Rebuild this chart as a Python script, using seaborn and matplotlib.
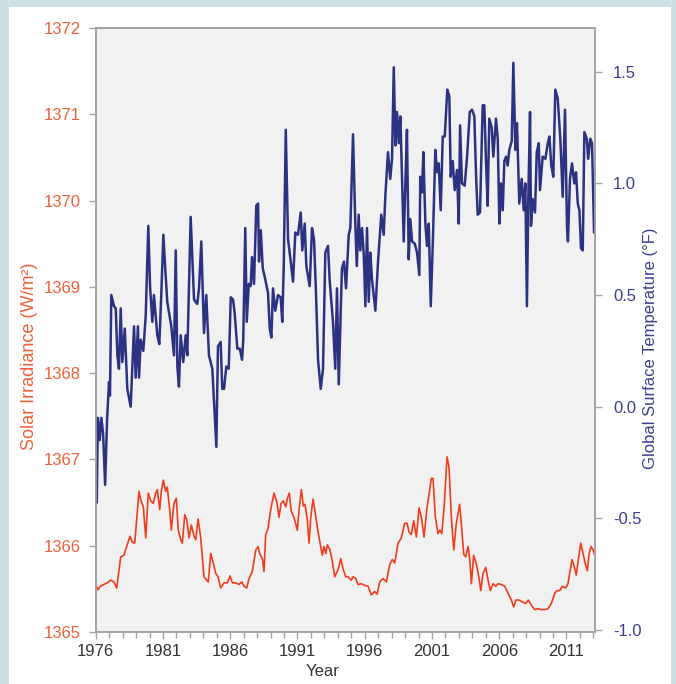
import matplotlib
matplotlib.use("Agg")
import matplotlib.pyplot as plt
import seaborn as sns
from matplotlib.patches import Rectangle
from matplotlib.ticker import MultipleLocator, FormatStrFormatter

# monthly-ish readings
temp_year = [
    1976.00, 1976.08, 1976.16, 1976.30, 1976.42, 1976.55, 1976.70, 1976.85, 1976.99, 1977.06,
    1977.16, 1977.36, 1977.49, 1977.61, 1977.73, 1977.86, 1977.98, 1978.16, 1978.35, 1978.60,
    1978.85, 1978.97, 1979.14, 1979.22, 1979.35, 1979.54, 1979.72, 1979.91, 1980.04, 1980.21,
    1980.33, 1980.58, 1980.73, 1980.88, 1981.03, 1981.15, 1981.32, 1981.62, 1981.82, 1981.95,
    1982.07, 1982.19, 1982.32, 1982.51, 1982.69, 1982.81, 1983.06, 1983.31, 1983.55, 1983.68,
    1983.85, 1984.05, 1984.22, 1984.42, 1984.67, 1984.97, 1985.09, 1985.29, 1985.41, 1985.54,
    1985.71, 1985.89, 1986.04, 1986.21, 1986.33, 1986.53, 1986.71, 1986.88, 1986.97, 1987.12,
    1987.23, 1987.38, 1987.52, 1987.62, 1987.77, 1987.94, 1988.07, 1988.14, 1988.27, 1988.42,
    1988.57, 1988.81, 1988.94, 1989.06, 1989.18, 1989.35, 1989.55, 1989.75, 1989.87, 1989.98,
    1990.13, 1990.30, 1990.50, 1990.67, 1990.84, 1991.04, 1991.24, 1991.36, 1991.54, 1991.66,
    1991.91, 1992.08, 1992.23, 1992.36, 1992.53, 1992.73, 1992.90, 1993.07, 1993.27, 1993.40,
    1993.64, 1993.81, 1993.94, 1994.07, 1994.22, 1994.31, 1994.46, 1994.61, 1994.81, 1994.93,
    1995.13, 1995.30, 1995.41, 1995.55, 1995.67, 1995.80, 1995.93, 1996.05, 1996.17, 1996.30,
    1996.42, 1996.54, 1996.79, 1996.99, 1997.23, 1997.41, 1997.53, 1997.73, 1997.90, 1998.03,
    1998.16, 1998.28, 1998.40, 1998.53, 1998.65, 1998.77, 1998.90, 1999.02, 1999.14, 1999.27,
    1999.39, 1999.52, 1999.72, 1999.89, 2000.06, 2000.13, 2000.26, 2000.36, 2000.51, 2000.63,
    2000.76, 2000.91, 2001.06, 2001.25, 2001.38, 2001.50, 2001.65, 2001.80, 2001.95, 2002.14,
    2002.29, 2002.39, 2002.54, 2002.69, 2002.86, 2002.99, 2003.09, 2003.23, 2003.43, 2003.61,
    2003.81, 2003.98, 2004.15, 2004.28, 2004.40, 2004.57, 2004.77, 2004.89, 2005.02, 2005.14,
    2005.26, 2005.44, 2005.56, 2005.76, 2005.89, 2006.01, 2006.13, 2006.26, 2006.38, 2006.51,
    2006.63, 2006.75, 2006.93, 2007.05, 2007.20, 2007.32, 2007.49, 2007.67, 2007.82, 2007.94,
    2008.06, 2008.16, 2008.29, 2008.36, 2008.49, 2008.66, 2008.79, 2008.94, 2009.03, 2009.23,
    2009.43, 2009.61, 2009.73, 2009.87, 2010.02, 2010.17, 2010.35, 2010.54, 2010.72, 2010.89,
    2011.04, 2011.11, 2011.26, 2011.41, 2011.58, 2011.71, 2011.84, 2011.96, 2012.08, 2012.21,
    2012.33, 2012.51, 2012.61, 2012.77, 2012.90, 2013.05,
]
temp_f = [
    -0.05, -0.43, -0.05, -0.15, -0.05, -0.12, -0.35, -0.05, 0.11, 0.05,
    0.50, 0.45, 0.44, 0.23, 0.17, 0.44, 0.20, 0.35, 0.08, 0.00,
    0.36, 0.13, 0.36, 0.13, 0.30, 0.25, 0.41, 0.81, 0.54, 0.38,
    0.50, 0.32, 0.28, 0.51, 0.77, 0.64, 0.47, 0.36, 0.23, 0.70,
    0.18, 0.09, 0.32, 0.20, 0.32, 0.23, 0.85, 0.48, 0.46, 0.53,
    0.74, 0.33, 0.50, 0.23, 0.17, -0.18, 0.27, 0.29, 0.08, 0.08,
    0.18, 0.17, 0.49, 0.48, 0.42, 0.26, 0.26, 0.21, 0.30, 0.80,
    0.38, 0.55, 0.54, 0.67, 0.55, 0.90, 0.91, 0.65, 0.79, 0.62,
    0.58, 0.51, 0.35, 0.31, 0.53, 0.43, 0.50, 0.49, 0.38, 0.63,
    1.24, 0.75, 0.65, 0.56, 0.78, 0.77, 0.87, 0.70, 0.82, 0.63,
    0.54, 0.80, 0.75, 0.54, 0.21, 0.08, 0.17, 0.69, 0.72, 0.56,
    0.38, 0.17, 0.53, 0.10, 0.44, 0.62, 0.65, 0.53, 0.77, 0.80,
    1.22, 0.82, 0.63, 0.86, 0.70, 0.80, 0.68, 0.45, 0.80, 0.47,
    0.69, 0.57, 0.43, 0.65, 0.86, 0.77, 0.94, 1.14, 1.02, 1.11,
    1.52, 1.17, 1.32, 1.18, 1.30, 1.03, 0.74, 1.00, 1.24, 0.66,
    0.84, 0.74, 0.73, 0.69, 0.59, 1.03, 0.96, 1.14, 0.82, 0.72,
    0.82, 0.45, 0.73, 1.15, 1.05, 1.09, 0.88, 1.21, 1.21, 1.42,
    1.39, 1.03, 1.10, 0.97, 1.06, 0.82, 1.26, 1.00, 0.99, 1.12,
    1.32, 1.33, 1.30, 1.03, 0.86, 0.87, 1.35, 1.35, 1.09, 0.90,
    1.29, 1.25, 1.12, 1.29, 1.20, 0.82, 1.00, 0.88, 1.10, 1.12,
    1.08, 1.15, 1.19, 1.54, 1.15, 1.27, 0.91, 1.02, 0.88, 1.00,
    0.45, 0.93, 1.32, 0.81, 0.93, 0.87, 1.14, 1.18, 0.97, 1.12,
    1.11, 1.18, 1.21, 1.08, 1.03, 1.42, 1.38, 1.20, 0.94, 1.33,
    0.80, 0.74, 1.02, 1.09, 1.00, 1.05, 0.91, 0.88, 0.71, 0.70,
    1.23, 1.20, 1.11, 1.20, 1.18, 0.78,
]

solar_year = [
    1976.00, 1976.17, 1976.34, 1976.59, 1976.86, 1977.12, 1977.36, 1977.56, 1977.86, 1978.10,
    1978.30, 1978.55, 1978.72, 1978.90, 1979.22, 1979.35, 1979.54, 1979.72, 1979.91, 1980.09,
    1980.28, 1980.46, 1980.58, 1980.76, 1980.88, 1981.03, 1981.20, 1981.32, 1981.50, 1981.62,
    1981.82, 1981.99, 1982.14, 1982.32, 1982.44, 1982.62, 1982.77, 1982.94, 1983.11, 1983.31,
    1983.44, 1983.61, 1983.81, 1984.05, 1984.25, 1984.37, 1984.55, 1984.74, 1984.92, 1985.09,
    1985.29, 1985.54, 1985.78, 1985.99, 1986.16, 1986.41, 1986.65, 1986.86, 1987.03, 1987.23,
    1987.40, 1987.64, 1987.90, 1988.07, 1988.19, 1988.39, 1988.51, 1988.64, 1988.81, 1989.01,
    1989.26, 1989.46, 1989.63, 1989.78, 1989.95, 1990.13, 1990.25, 1990.39, 1990.54, 1990.74,
    1990.99, 1991.12, 1991.29, 1991.44, 1991.56, 1991.73, 1991.86, 1991.99, 1992.16, 1992.30,
    1992.48, 1992.68, 1992.85, 1992.97, 1993.10, 1993.22, 1993.42, 1993.59, 1993.77, 1994.01,
    1994.22, 1994.41, 1994.59, 1994.76, 1995.00, 1995.13, 1995.33, 1995.50, 1995.75, 1996.00,
    1996.25, 1996.49, 1996.74, 1996.92, 1997.12, 1997.36, 1997.61, 1997.86, 1998.05, 1998.23,
    1998.48, 1998.72, 1998.97, 1999.15, 1999.29, 1999.46, 1999.64, 1999.84, 2000.04, 2000.21,
    2000.41, 2000.63, 2000.78, 2000.95, 2001.08, 2001.25, 2001.45, 2001.58, 2001.73, 2001.90,
    2002.12, 2002.27, 2002.44, 2002.62, 2002.81, 2003.06, 2003.18, 2003.36, 2003.51, 2003.68,
    2003.81, 2003.93, 2004.10, 2004.30, 2004.48, 2004.63, 2004.80, 2005.00, 2005.17, 2005.34,
    2005.54, 2005.74, 2005.91, 2006.16, 2006.41, 2006.65, 2006.90, 2007.08, 2007.23, 2007.47,
    2007.72, 2007.97, 2008.16, 2008.39, 2008.64, 2008.88, 2009.13, 2009.38, 2009.63, 2009.87,
    2010.13, 2010.30, 2010.50, 2010.69, 2010.94, 2011.11, 2011.24, 2011.41, 2011.58, 2011.73,
    2011.88, 2012.06, 2012.23, 2012.40, 2012.55, 2012.68, 2012.83, 2012.98, 2013.10,
]
solar_wm2 = [
    1365.55, 1365.49, 1365.53, 1365.55, 1365.57, 1365.60, 1365.58, 1365.51, 1365.87, 1365.89,
    1365.99, 1366.11, 1366.04, 1366.03, 1366.63, 1366.53, 1366.45, 1366.09, 1366.61, 1366.52,
    1366.49, 1366.61, 1366.65, 1366.42, 1366.63, 1366.76, 1366.63, 1366.68, 1366.42, 1366.18,
    1366.49, 1366.55, 1366.18, 1366.07, 1366.03, 1366.36, 1366.30, 1366.09, 1366.24, 1366.11,
    1366.07, 1366.31, 1366.09, 1365.64, 1365.60, 1365.58, 1365.91, 1365.80, 1365.68, 1365.64,
    1365.51, 1365.57, 1365.57, 1365.65, 1365.57, 1365.57, 1365.55, 1365.58, 1365.53, 1365.51,
    1365.62, 1365.70, 1365.95, 1365.99, 1365.91, 1365.85, 1365.70, 1366.13, 1366.20, 1366.42,
    1366.61, 1366.51, 1366.33, 1366.49, 1366.52, 1366.45, 1366.55, 1366.61, 1366.40, 1366.33,
    1366.18, 1366.42, 1366.65, 1366.46, 1366.48, 1366.30, 1366.03, 1366.33, 1366.54, 1366.40,
    1366.21, 1366.03, 1365.89, 1365.99, 1365.91, 1366.01, 1365.95, 1365.82, 1365.64, 1365.72,
    1365.85, 1365.72, 1365.64, 1365.64, 1365.60, 1365.64, 1365.62, 1365.55, 1365.56, 1365.54,
    1365.53, 1365.43, 1365.47, 1365.44, 1365.58, 1365.62, 1365.58, 1365.78, 1365.84, 1365.80,
    1366.03, 1366.09, 1366.26, 1366.26, 1366.16, 1366.13, 1366.29, 1366.10, 1366.44, 1366.33,
    1366.10, 1366.44, 1366.59, 1366.78, 1366.78, 1366.33, 1366.14, 1366.18, 1366.14, 1366.44,
    1367.03, 1366.91, 1366.33, 1365.95, 1366.26, 1366.48, 1366.26, 1365.90, 1365.87, 1365.99,
    1365.84, 1365.56, 1365.89, 1365.79, 1365.64, 1365.48, 1365.68, 1365.75, 1365.60, 1365.48,
    1365.56, 1365.53, 1365.56, 1365.55, 1365.53, 1365.45, 1365.37, 1365.29, 1365.37, 1365.37,
    1365.35, 1365.33, 1365.37, 1365.31, 1365.26, 1365.27, 1365.26, 1365.26, 1365.27, 1365.33,
    1365.45, 1365.48, 1365.48, 1365.53, 1365.51, 1365.56, 1365.68, 1365.84, 1365.76, 1365.66,
    1365.84, 1366.03, 1365.91, 1365.79, 1365.71, 1365.91, 1365.99, 1365.95, 1365.89,
]

solar_ticks = [1365, 1366, 1367, 1368, 1369, 1370, 1371, 1372]
temp_ticks = [-1.0, -0.5, 0.0, 0.5, 1.0, 1.5]
year_ticks = [1976, 1981, 1986, 1991, 1996, 2001, 2006, 2011]

ORANGE = "#f0603c"
RED_LINE = "#f23c1e"
NAVY = "#3b3f8e"
NAVY_LINE = "#2c3282"
SPINE = "#a3a3a3"

sns.set_theme(style="white")
plt.rcParams["font.family"] = ["Liberation Sans", "DejaVu Sans"]
plt.rcParams["axes.unicode_minus"] = False

fig = plt.figure(figsize=(6.76, 6.84), dpi=100, facecolor="#cde0e5")
fig.patches.append(Rectangle((9 / 676, 0), 662 / 676, 677 / 684, transform=fig.transFigure,
                             facecolor="white", edgecolor="none", zorder=-5))

ax = fig.add_axes([95.7 / 676, 52 / 684, 499.3 / 676, 604 / 684])
ax.set_facecolor("#f1f1f1")
ax2 = ax.twinx()

sns.lineplot(x=solar_year, y=solar_wm2, ax=ax, color=RED_LINE, lw=1.2,
             estimator=None, sort=False)
sns.lineplot(x=temp_year, y=temp_f, ax=ax2, color=NAVY_LINE, lw=1.8,
             estimator=None, sort=False)

ax.set_xlim(1976, 2013.12)
ax.set_ylim(1365, 1372)
ax2.set_ylim(-1.009, 1.696)

ax.set_xticks(year_ticks)
ax.xaxis.set_minor_locator(MultipleLocator(1))
ax.set_yticks(solar_ticks)
ax2.set_yticks(temp_ticks)
ax2.yaxis.set_major_formatter(FormatStrFormatter("%.1f"))

ax.tick_params(axis="x", which="both", bottom=True, direction="out", color=SPINE,
               labelcolor="#333333", labelsize=12, pad=4)
ax.tick_params(axis="x", which="major", length=5, width=1)
ax.tick_params(axis="x", which="minor", length=4, width=1)
ax.tick_params(axis="y", left=True, direction="out", length=5, width=1, color=SPINE,
               labelcolor=ORANGE, labelsize=12, pad=6)
ax2.tick_params(axis="y", right=True, direction="out", length=5, width=1, color=SPINE,
                labelcolor=NAVY, labelsize=12, pad=8)

for a in (ax, ax2):
    for s in a.spines.values():
        s.set_color(SPINE)
        s.set_linewidth(1.2)

ax.set_xlabel("")
ax.set_ylabel("")
ax2.set_ylabel("")

fig.text(30 / 676, (684 - 356) / 684, "Solar Irradiance (W/m²)", rotation=90,
         ha="center", va="center", color=ORANGE, fontsize=13)
fig.text(650 / 676, (684 - 348) / 684, "Global Surface Temperature (°F)", rotation=90,
         ha="center", va="center", color=NAVY, fontsize=12)
fig.text(323 / 676, 12 / 684, "Year", ha="center", va="center", color="#333333", fontsize=12)

fig.savefig("out.png", dpi=100, facecolor=fig.get_facecolor())
